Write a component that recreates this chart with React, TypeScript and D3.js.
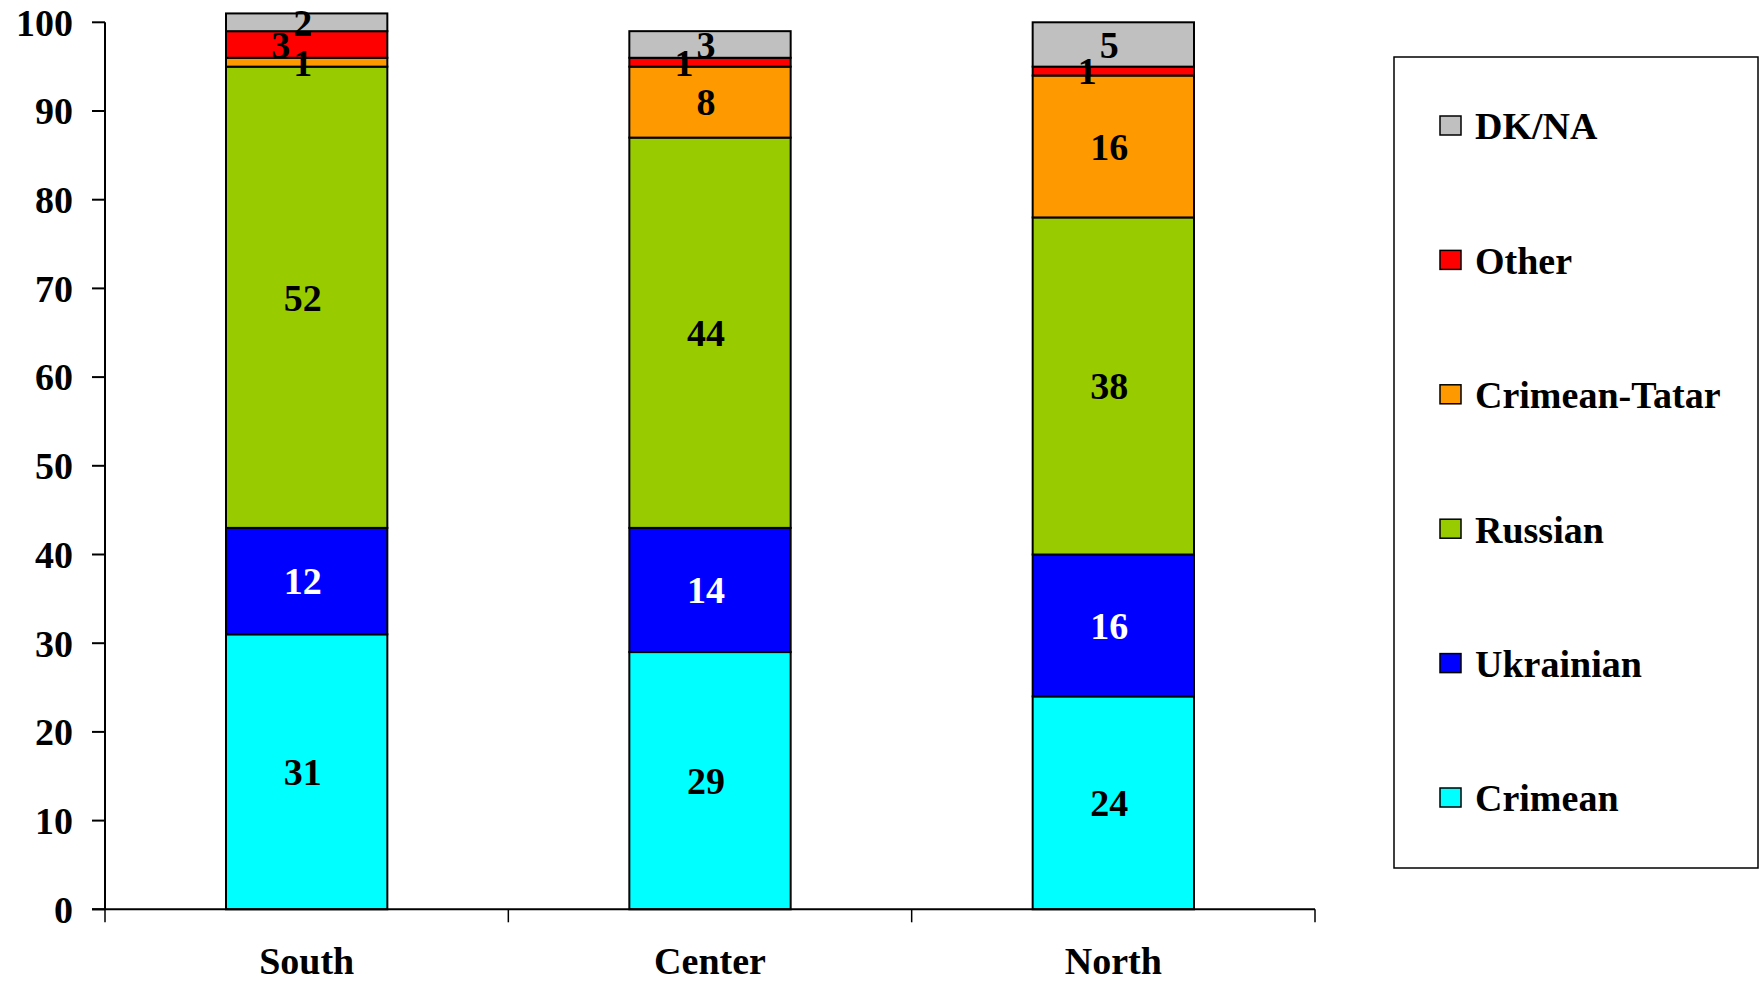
import React, { useEffect, useRef } from "react";
import * as d3 from "d3";

const categories = ["South", "Center", "North"];
const seriesNames = ["Crimean", "Ukrainian", "Russian", "Crimean-Tatar", "Other", "DK/NA"];
const crimean = [31, 29, 24];
const ukrainian = [12, 14, 16];
const russian = [52, 44, 38];
const crimeanTatar = [1, 8, 16];
const other = [3, 1, 1];
const dkna = [2, 3, 5];
const seriesColors = ["#00FFFF", "#0000FF", "#99CC00", "#FF9900", "#FF0000", "#C0C0C0"];
const labelColors = ["#000", "#fff", "#000", "#000", "#000", "#000"];
const yTicks = [0, 10, 20, 30, 40, 50, 60, 70, 80, 90, 100];

const W = 1764;
const H = 981;
const FONT = "'Liberation Serif', 'Times New Roman', serif";
const FS = 38;

export default function App() {
  const ref = useRef<SVGSVGElement>(null);

  useEffect(() => {
    document.body.style.margin = "0";
    const svg = d3.select(ref.current);
    svg.selectAll("*").remove();

    const plot = { left: 105, right: 1315, top: 22.3, bottom: 909.3 };
    const values = [crimean, ukrainian, russian, crimeanTatar, other, dkna];
    const rows = categories.map((c, i) => {
      const r: any = { category: c };
      seriesNames.forEach((s, k) => (r[s] = values[k][i]));
      return r;
    });
    const stacked = d3.stack().keys(seriesNames)(rows);

    const x = d3.scaleBand().domain(categories).range([plot.left, plot.right]).paddingInner(0.6).paddingOuter(0.3);
    const xOuter = d3.scaleBand().domain(categories).range([plot.left, plot.right]);
    const y = d3.scaleLinear().domain([0, 100]).range([plot.bottom, plot.top]);

    const g = svg.append("g");

    // bars
    stacked.forEach((layer, k) => {
      g.append("g")
        .selectAll("rect")
        .data(layer)
        .join("rect")
        .attr("x", (d: any) => x(d.data.category)!)
        .attr("width", x.bandwidth())
        .attr("y", (d: any) => y(d[1]))
        .attr("height", (d: any) => y(d[0]) - y(d[1]))
        .attr("fill", seriesColors[k])
        .attr("stroke", "#000")
        .attr("stroke-width", 2);
    });

    // labels: processed top-down; a label too close to the last centred one is nudged left
    categories.forEach((c, i) => {
      let lastY = -Infinity;
      for (let k = stacked.length - 1; k >= 0; k--) {
        const d: any = stacked[k][i];
        const cy = y((d[0] + d[1]) / 2);
        let cx = x(c)! + x.bandwidth() / 2 - 4;
        if (Math.abs(cy - lastY) < 30) {
          cx -= 22;
        } else {
          lastY = cy;
        }
        g.append("text")
          .attr("x", cx)
          .attr("y", cy)
          .attr("dy", "0.35em")
          .attr("text-anchor", "middle")
          .attr("font-family", FONT)
          .attr("font-weight", "bold")
          .attr("font-size", FS)
          .attr("fill", labelColors[k])
          .text(String(d[1] - d[0]));
      }
    });

    // y axis
    const ya = g.append("g");
    ya.append("line")
      .attr("x1", plot.left).attr("x2", plot.left)
      .attr("y1", y(100)).attr("y2", y(0))
      .attr("stroke", "#000").attr("stroke-width", 2);
    ya.selectAll("line.tick")
      .data(yTicks)
      .join("line")
      .attr("class", "tick")
      .attr("x1", plot.left - 13).attr("x2", plot.left)
      .attr("y1", (d) => y(d)).attr("y2", (d) => y(d))
      .attr("stroke", "#000").attr("stroke-width", 2);
    ya.selectAll("text")
      .data(yTicks)
      .join("text")
      .attr("x", 73)
      .attr("y", (d) => y(d))
      .attr("dy", "0.35em")
      .attr("text-anchor", "end")
      .attr("font-family", FONT)
      .attr("font-weight", "bold")
      .attr("font-size", FS)
      .attr("fill", "#000")
      .text((d) => String(d));

    // x axis
    const xa = g.append("g");
    xa.append("line")
      .attr("x1", plot.left - 13).attr("x2", plot.right)
      .attr("y1", plot.bottom).attr("y2", plot.bottom)
      .attr("stroke", "#000").attr("stroke-width", 2);
    const bounds = [plot.left, ...categories.map((c) => xOuter(c)! + xOuter.bandwidth())];
    xa.selectAll("line.tick")
      .data(bounds)
      .join("line")
      .attr("class", "tick")
      .attr("x1", (d) => d).attr("x2", (d) => d)
      .attr("y1", plot.bottom).attr("y2", plot.bottom + 13)
      .attr("stroke", "#000").attr("stroke-width", 1.5);
    xa.selectAll("text")
      .data(categories)
      .join("text")
      .attr("x", (d) => xOuter(d)! + xOuter.bandwidth() / 2)
      .attr("y", 974)
      .attr("text-anchor", "middle")
      .attr("font-family", FONT)
      .attr("font-weight", "bold")
      .attr("font-size", FS)
      .attr("fill", "#000")
      .text((d) => d);

    // legend
    const lg = svg.append("g");
    lg.append("rect")
      .attr("x", 1394).attr("y", 57)
      .attr("width", 364).attr("height", 811)
      .attr("fill", "#fff").attr("stroke", "#000").attr("stroke-width", 1.5);
    const legendOrder = seriesNames.map((s, k) => k).reverse();
    const ly = d3.scalePoint<number>().domain(legendOrder).range([126, 798]);
    legendOrder.forEach((k) => {
      const cy = ly(k)!;
      lg.append("rect")
        .attr("x", 1440).attr("y", cy - 10)
        .attr("width", 21).attr("height", 19)
        .attr("fill", seriesColors[k]).attr("stroke", "#000").attr("stroke-width", 1.5);
      lg.append("text")
        .attr("x", 1475).attr("y", cy)
        .attr("dy", "0.35em")
        .attr("font-family", FONT)
        .attr("font-weight", "bold")
        .attr("font-size", FS)
        .attr("fill", "#000")
        .text(seriesNames[k]);
    });
  }, []);

  return <svg ref={ref} width={W} height={H} style={{ display: "block", background: "#fff" }} />;
}
